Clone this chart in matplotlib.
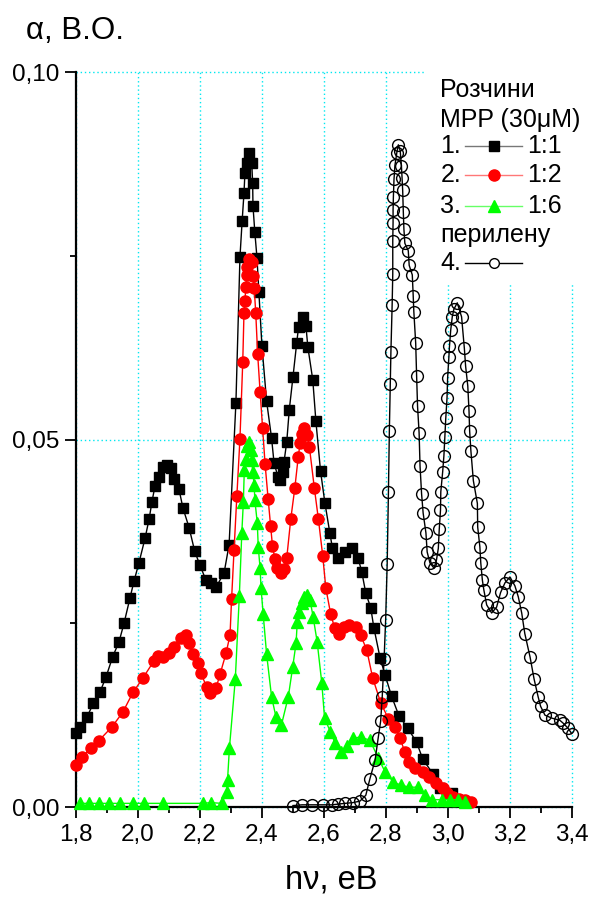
import matplotlib
matplotlib.use("Agg")
import matplotlib.pyplot as plt
from matplotlib.lines import Line2D
from matplotlib.patches import Rectangle
from matplotlib.ticker import MultipleLocator, FuncFormatter


# =========================
# 0. 데이터
# =========================

# 1. MPP 1:1 (검은 사각형)
x1 = [1.800, 1.813, 1.835, 1.856, 1.877, 1.897, 1.918, 1.939, 1.955, 1.974,
      1.987, 2.003, 2.023, 2.036, 2.045, 2.055, 2.067, 2.081, 2.093, 2.106,
      2.116, 2.132, 2.145, 2.165, 2.183, 2.200, 2.219, 2.235, 2.252, 2.278,
      2.294, 2.316, 2.329, 2.336, 2.342, 2.345, 2.351, 2.358, 2.367, 2.370,
      2.371, 2.377, 2.384, 2.390, 2.400, 2.415, 2.431, 2.439, 2.452, 2.458,
      2.468, 2.471, 2.480, 2.488, 2.500, 2.512, 2.518, 2.531, 2.542, 2.548,
      2.564, 2.574, 2.589, 2.603, 2.619, 2.627, 2.645, 2.668, 2.689, 2.710,
      2.722, 2.735, 2.751, 2.761, 2.781, 2.797, 2.818, 2.842, 2.871, 2.899,
      2.919, 2.952, 2.976, 3.012]
y1 = [0.0101, 0.0109, 0.0122, 0.0141, 0.0156, 0.0177, 0.0204, 0.0225, 0.0250, 0.0284,
      0.0307, 0.0332, 0.0366, 0.0392, 0.0415, 0.0437, 0.0449, 0.0463, 0.0465, 0.0461,
      0.0446, 0.0433, 0.0407, 0.0380, 0.0348, 0.0329, 0.0309, 0.0305, 0.0299, 0.0319,
      0.0357, 0.0550, 0.0748, 0.0797, 0.0835, 0.0862, 0.0876, 0.0890, 0.0876, 0.0849,
      0.0818, 0.0782, 0.0747, 0.0701, 0.0627, 0.0552, 0.0502, 0.0468, 0.0449, 0.0445,
      0.0456, 0.0469, 0.0497, 0.0540, 0.0585, 0.0631, 0.0653, 0.0667, 0.0654, 0.0626,
      0.0581, 0.0525, 0.0457, 0.0414, 0.0373, 0.0353, 0.0339, 0.0347, 0.0352, 0.0339,
      0.0320, 0.0291, 0.0271, 0.0244, 0.0203, 0.0180, 0.0151, 0.0124, 0.0107, 0.0088,
      0.0065, 0.0045, 0.0026, 0.0019]

# 2. MPP 1:2 (빨간 원)
x2 = [1.800, 1.819, 1.848, 1.873, 1.916, 1.951, 1.984, 2.015, 2.052, 2.063,
      2.081, 2.099, 2.116, 2.139, 2.155, 2.165, 2.176, 2.193, 2.203, 2.222,
      2.232, 2.252, 2.265, 2.284, 2.297, 2.302, 2.310, 2.319, 2.329, 2.338,
      2.342, 2.345, 2.348, 2.351, 2.353, 2.359, 2.367, 2.372, 2.375, 2.380,
      2.386, 2.394, 2.402, 2.410, 2.420, 2.428, 2.434, 2.442, 2.449, 2.460,
      2.471, 2.480, 2.493, 2.506, 2.517, 2.523, 2.528, 2.535, 2.546, 2.553,
      2.569, 2.582, 2.596, 2.606, 2.622, 2.635, 2.649, 2.664, 2.680, 2.703,
      2.718, 2.738, 2.757, 2.783, 2.808, 2.829, 2.845, 2.861, 2.875, 2.894,
      2.920, 2.940, 2.961, 2.983, 2.998, 3.017, 3.035, 3.055, 3.073]
y2 = [0.0057, 0.0068, 0.0080, 0.0090, 0.0109, 0.0129, 0.0156, 0.0175, 0.0199, 0.0205,
      0.0204, 0.0209, 0.0218, 0.0230, 0.0234, 0.0223, 0.0208, 0.0196, 0.0182, 0.0163,
      0.0155, 0.0162, 0.0181, 0.0209, 0.0234, 0.0283, 0.0350, 0.0423, 0.0501, 0.0605,
      0.0672, 0.0688, 0.0708, 0.0724, 0.0735, 0.0745, 0.0741, 0.0722, 0.0706, 0.0672,
      0.0617, 0.0565, 0.0516, 0.0467, 0.0419, 0.0382, 0.0355, 0.0337, 0.0325, 0.0318,
      0.0324, 0.0339, 0.0392, 0.0434, 0.0476, 0.0495, 0.0508, 0.0516, 0.0506, 0.0490,
      0.0434, 0.0392, 0.0342, 0.0298, 0.0262, 0.0243, 0.0236, 0.0245, 0.0248, 0.0245,
      0.0234, 0.0214, 0.0176, 0.0142, 0.0120, 0.0109, 0.0094, 0.0075, 0.0061, 0.0053,
      0.0048, 0.0041, 0.0033, 0.0026, 0.0019, 0.0014, 0.0011, 0.0010, 0.0007]

# 3. MPP 1:6 (초록 삼각형)
x3 = [1.813, 1.843, 1.875, 1.908, 1.942, 1.985, 2.021, 2.082, 2.209, 2.235,
      2.271, 2.286, 2.289, 2.295, 2.314, 2.327, 2.335, 2.340, 2.343, 2.348,
      2.353, 2.359, 2.364, 2.367, 2.370, 2.375, 2.377, 2.385, 2.388, 2.394,
      2.397, 2.404, 2.415, 2.431, 2.445, 2.463, 2.485, 2.499, 2.510, 2.514,
      2.520, 2.528, 2.535, 2.546, 2.555, 2.565, 2.578, 2.593, 2.602, 2.621,
      2.636, 2.656, 2.675, 2.694, 2.718, 2.748, 2.775, 2.797, 2.824, 2.847,
      2.875, 2.904, 2.926, 2.950, 2.980, 3.007, 3.033, 3.055]
y3 = [0.0005, 0.0005, 0.0005, 0.0005, 0.0005, 0.0005, 0.0005, 0.0005, 0.0005, 0.0006,
      0.0005, 0.0021, 0.0037, 0.0080, 0.0174, 0.0287, 0.0373, 0.0415, 0.0458, 0.0474,
      0.0491, 0.0497, 0.0486, 0.0472, 0.0456, 0.0438, 0.0418, 0.0386, 0.0354, 0.0325,
      0.0298, 0.0262, 0.0208, 0.0150, 0.0123, 0.0112, 0.0150, 0.0190, 0.0223, 0.0252,
      0.0265, 0.0278, 0.0286, 0.0288, 0.0282, 0.0259, 0.0225, 0.0169, 0.0121, 0.0102,
      0.0087, 0.0075, 0.0083, 0.0094, 0.0095, 0.0091, 0.0067, 0.0048, 0.0034, 0.0030,
      0.0027, 0.0027, 0.0016, 0.0010, 0.0010, 0.0010, 0.0010, 0.0007]

# 4. 페릴렌 (빈 원)
x4 = [2.500, 2.530, 2.560, 2.598, 2.625, 2.646, 2.668, 2.693, 2.716, 2.735,
      2.748, 2.765, 2.775, 2.783, 2.788, 2.794, 2.799, 2.804, 2.808, 2.811,
      2.814, 2.816, 2.820, 2.822, 2.822, 2.823, 2.823, 2.824, 2.826, 2.829,
      2.835, 2.840, 2.846, 2.850, 2.852, 2.854, 2.856, 2.858, 2.861, 2.872,
      2.875, 2.885, 2.888, 2.890, 2.896, 2.899, 2.902, 2.907, 2.910, 2.915,
      2.920, 2.929, 2.933, 2.942, 2.955, 2.963, 2.969, 2.972, 2.976, 2.977,
      2.983, 2.987, 2.990, 2.993, 2.997, 2.999, 3.003, 3.005, 3.009, 3.014,
      3.019, 3.030, 3.044, 3.053, 3.057, 3.064, 3.068, 3.070, 3.074, 3.082,
      3.095, 3.096, 3.103, 3.106, 3.111, 3.116, 3.125, 3.141, 3.157, 3.170,
      3.184, 3.200, 3.216, 3.227, 3.238, 3.248, 3.265, 3.278, 3.291, 3.299,
      3.313, 3.335, 3.361, 3.372, 3.388, 3.399]
y4 = [0.0002, 0.0003, 0.0003, 0.0003, 0.0003, 0.0004, 0.0005, 0.0006, 0.0008, 0.0016,
      0.0038, 0.0064, 0.0094, 0.0117, 0.0150, 0.0201, 0.0254, 0.0331, 0.0428, 0.0512,
      0.0576, 0.0619, 0.0683, 0.0725, 0.0770, 0.0795, 0.0812, 0.0830, 0.0854, 0.0873,
      0.0890, 0.0901, 0.0893, 0.0872, 0.0856, 0.0839, 0.0810, 0.0786, 0.0767, 0.0757,
      0.0737, 0.0724, 0.0695, 0.0674, 0.0631, 0.0586, 0.0545, 0.0509, 0.0464, 0.0426,
      0.0400, 0.0373, 0.0347, 0.0332, 0.0325, 0.0336, 0.0352, 0.0378, 0.0404, 0.0429,
      0.0456, 0.0478, 0.0503, 0.0529, 0.0556, 0.0584, 0.0612, 0.0627, 0.0649, 0.0667,
      0.0677, 0.0686, 0.0667, 0.0624, 0.0600, 0.0573, 0.0539, 0.0512, 0.0485, 0.0444,
      0.0413, 0.0381, 0.0354, 0.0332, 0.0309, 0.0295, 0.0275, 0.0264, 0.0272, 0.0292,
      0.0305, 0.0313, 0.0301, 0.0286, 0.0264, 0.0236, 0.0204, 0.0174, 0.0150, 0.0137,
      0.0125, 0.0121, 0.0118, 0.0114, 0.0107, 0.0100]

legend_rows = ["1.", "2.", "3."]
legend_ratios = ["1:1", "1:2", "1:6"]


# =========================
# 1. 스타일
# =========================

plt.rcParams["font.family"] = ["Liberation Sans", "DejaVu Sans"]
plt.rcParams["axes.unicode_minus"] = False

GRID_COLOR = "#00e8f0"
FS_TICK = 17.5
FS_LEGEND = 18
FS_LABEL = 22.5


def comma_fmt(decimals):
    return FuncFormatter(lambda v, pos: f"{v:.{decimals}f}".replace(".", ","))


# =========================
# 2. 그림
# =========================

fig = plt.figure(figsize=(5.89, 8.97), dpi=100)
ax = fig.add_axes([0.129, 0.1003, 0.842, 0.8194])

styles = [
    dict(color="black", marker="s", ms=7, mfc="black", mec="black"),
    dict(color="red", marker="o", ms=8, mfc="red", mec="red"),
    dict(color="#00ff00", marker="^", ms=8.5, mfc="#00ff00", mec="#00ff00"),
    dict(color="black", marker="o", ms=8.5, mfc="none", mec="black", mew=1.0),
]

for (xs, ys), st in zip([(x1, y1), (x2, y2), (x3, y3), (x4, y4)], styles):
    ax.plot(xs, ys, lw=1.0, clip_on=False, zorder=3, **st)

ax.set_xlim(1.8, 3.4)
ax.set_ylim(0.0, 0.10)

ax.xaxis.set_major_locator(MultipleLocator(0.2))
ax.xaxis.set_minor_locator(MultipleLocator(0.1))
ax.yaxis.set_major_locator(MultipleLocator(0.05))
ax.yaxis.set_minor_locator(MultipleLocator(0.025))
ax.xaxis.set_major_formatter(comma_fmt(1))
ax.yaxis.set_major_formatter(comma_fmt(2))

ax.tick_params(which="major", direction="out", length=8, width=1.3,
               labelsize=FS_TICK, pad=4)
ax.tick_params(which="minor", direction="out", length=4, width=1.3)

for side in ["top", "right"]:
    ax.spines[side].set_visible(False)
for side in ["left", "bottom"]:
    ax.spines[side].set_linewidth(1.6)

ax.set_axisbelow(True)
ax.grid(True, which="major", color=GRID_COLOR, linestyle=(0, (1.0, 2.0)), linewidth=1.0)
for gl in ax.get_xgridlines() + ax.get_ygridlines():
    gl.set_clip_on(False)

# 범례 (흰 배경으로 격자 가리기)
ax.add_patch(Rectangle((0.705, 0.713), 0.31, 0.30, transform=ax.transAxes,
                       facecolor="white", edgecolor="none", zorder=2, clip_on=False))

tx = 0.735
ax.text(tx, 0.9755, "Розчини", transform=ax.transAxes, fontsize=FS_LEGEND, va="center", zorder=4)
ax.text(tx, 0.9347, "MPP (30μM)", transform=ax.transAxes, fontsize=FS_LEGEND, va="center", zorder=4)

row_y = [0.8993, 0.860, 0.8177]
handle_colors = ["#777777", "#ff7777", "#66ff66"]
for yy, num, ratio, st, hc in zip(row_y, legend_rows, legend_ratios, styles[:3], handle_colors):
    ax.text(tx, yy, num, transform=ax.transAxes, fontsize=FS_LEGEND, va="center", zorder=4)
    ax.add_line(Line2D([0.784, 0.899], [yy, yy], transform=ax.transAxes, color=hc,
                       lw=1.0, zorder=4, clip_on=False))
    ax.add_line(Line2D([0.842], [yy], transform=ax.transAxes, marker=st["marker"],
                       ms=st["ms"], mfc=st["mfc"], mec=st["mec"], ls="none",
                       zorder=5, clip_on=False))
    ax.text(0.909, yy, ratio, transform=ax.transAxes, fontsize=FS_LEGEND, va="center", zorder=4)

ax.text(tx, 0.778, "перилену", transform=ax.transAxes, fontsize=FS_LEGEND, va="center", zorder=4)
ax.text(tx, 0.740, "4.", transform=ax.transAxes, fontsize=FS_LEGEND, va="center", zorder=4)
ax.add_line(Line2D([0.784, 0.899], [0.740, 0.740], transform=ax.transAxes, color="black",
                   lw=1.0, zorder=4, clip_on=False))
ax.add_line(Line2D([0.842], [0.740], transform=ax.transAxes, marker="o", ms=7,
                   mfc="white", mec="black", mew=1.0, ls="none", zorder=5, clip_on=False))

# 축 제목
fig.text(0.044, 0.965, "α, В.О.", fontsize=FS_LABEL, ha="left", va="center")
fig.text(0.562, 0.019, "hν, eB", fontsize=FS_LABEL + 1, ha="center", va="center")

fig.savefig("out.png", dpi=100)
